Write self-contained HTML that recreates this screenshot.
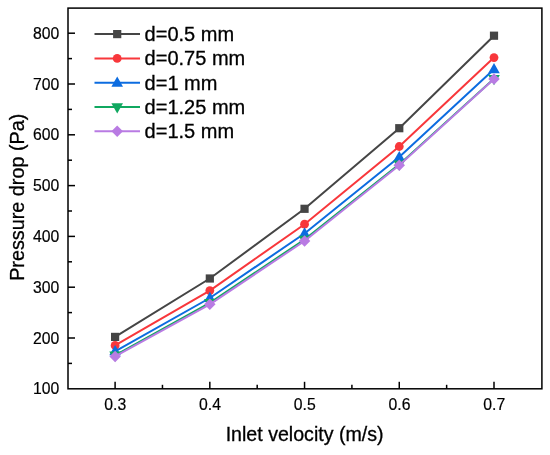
<!DOCTYPE html><html><head><meta charset="utf-8"><style>html,body{margin:0;padding:0;background:#fff;}text{stroke:#000;stroke-width:0.3px;}svg{display:block;will-change:transform;font-family:"Liberation Sans",sans-serif;}</style></head><body>
<svg width="550" height="455" viewBox="0 0 550 455">
<rect width="550" height="455" fill="#fff"/>
<polyline points="115.10,336.90 209.83,278.50 304.55,208.80 399.27,128.20 494.00,35.70" fill="none" stroke="#454545" stroke-width="2"/>
<rect x="111.00" y="332.80" width="8.2" height="8.2" fill="#454545"/>
<rect x="205.73" y="274.40" width="8.2" height="8.2" fill="#454545"/>
<rect x="300.45" y="204.70" width="8.2" height="8.2" fill="#454545"/>
<rect x="395.17" y="124.10" width="8.2" height="8.2" fill="#454545"/>
<rect x="489.90" y="31.60" width="8.2" height="8.2" fill="#454545"/>
<polyline points="115.10,345.40 209.83,290.60 304.55,224.20 399.27,146.50 494.00,57.60" fill="none" stroke="#f8373b" stroke-width="2"/>
<circle cx="115.10" cy="345.40" r="4.4" fill="#f8373b"/>
<circle cx="209.83" cy="290.60" r="4.4" fill="#f8373b"/>
<circle cx="304.55" cy="224.20" r="4.4" fill="#f8373b"/>
<circle cx="399.27" cy="146.50" r="4.4" fill="#f8373b"/>
<circle cx="494.00" cy="57.60" r="4.4" fill="#f8373b"/>
<polyline points="115.10,351.30 209.83,298.00 304.55,233.50 399.27,157.10 494.00,69.20" fill="none" stroke="#0c6ce0" stroke-width="2"/>
<polygon points="115.10,345.10 120.90,355.30 109.30,355.30" fill="#0c6ce0"/>
<polygon points="209.83,291.80 215.63,302.00 204.03,302.00" fill="#0c6ce0"/>
<polygon points="304.55,227.30 310.35,237.50 298.75,237.50" fill="#0c6ce0"/>
<polygon points="399.27,150.90 405.07,161.10 393.47,161.10" fill="#0c6ce0"/>
<polygon points="494.00,63.00 499.80,73.20 488.20,73.20" fill="#0c6ce0"/>
<polyline points="115.10,355.30 209.83,302.90 304.55,239.50 399.27,164.40 494.00,78.80" fill="none" stroke="#10a860" stroke-width="2"/>
<polygon points="115.10,361.70 120.90,351.50 109.30,351.50" fill="#10a860"/>
<polygon points="209.83,309.30 215.63,299.10 204.03,299.10" fill="#10a860"/>
<polygon points="304.55,245.90 310.35,235.70 298.75,235.70" fill="#10a860"/>
<polygon points="399.27,170.80 405.07,160.60 393.47,160.60" fill="#10a860"/>
<polygon points="494.00,85.20 499.80,75.00 488.20,75.00" fill="#10a860"/>
<polyline points="115.10,356.40 209.83,304.30 304.55,241.00 399.27,165.30 494.00,78.90" fill="none" stroke="#b97be3" stroke-width="2"/>
<polygon points="115.10,350.65 120.85,356.40 115.10,362.15 109.35,356.40" fill="#b97be3"/>
<polygon points="209.83,298.55 215.58,304.30 209.83,310.05 204.08,304.30" fill="#b97be3"/>
<polygon points="304.55,235.25 310.30,241.00 304.55,246.75 298.80,241.00" fill="#b97be3"/>
<polygon points="399.27,159.55 405.02,165.30 399.27,171.05 393.52,165.30" fill="#b97be3"/>
<polygon points="494.00,73.15 499.75,78.90 494.00,84.65 488.25,78.90" fill="#b97be3"/>
<rect x="68.0" y="8.1" width="473.9" height="380.7" fill="none" stroke="#000" stroke-width="1.5"/>
<text transform="translate(59.25,394.30) scale(0.945,1)" style="stroke-width:0.2px" font-size="16.7" text-anchor="end" fill="#000">100</text>
<line x1="68.0" x2="72.0" y1="363.40" y2="363.40" stroke="#000" stroke-width="1.5"/>
<line x1="68.0" x2="75.0" y1="338.00" y2="338.00" stroke="#000" stroke-width="1.5"/>
<text transform="translate(59.25,343.50) scale(0.945,1)" style="stroke-width:0.2px" font-size="16.7" text-anchor="end" fill="#000">200</text>
<line x1="68.0" x2="72.0" y1="312.60" y2="312.60" stroke="#000" stroke-width="1.5"/>
<line x1="68.0" x2="75.0" y1="287.20" y2="287.20" stroke="#000" stroke-width="1.5"/>
<text transform="translate(59.25,292.70) scale(0.945,1)" style="stroke-width:0.2px" font-size="16.7" text-anchor="end" fill="#000">300</text>
<line x1="68.0" x2="72.0" y1="261.80" y2="261.80" stroke="#000" stroke-width="1.5"/>
<line x1="68.0" x2="75.0" y1="236.40" y2="236.40" stroke="#000" stroke-width="1.5"/>
<text transform="translate(59.25,241.90) scale(0.945,1)" style="stroke-width:0.2px" font-size="16.7" text-anchor="end" fill="#000">400</text>
<line x1="68.0" x2="72.0" y1="211.00" y2="211.00" stroke="#000" stroke-width="1.5"/>
<line x1="68.0" x2="75.0" y1="185.60" y2="185.60" stroke="#000" stroke-width="1.5"/>
<text transform="translate(59.25,191.10) scale(0.945,1)" style="stroke-width:0.2px" font-size="16.7" text-anchor="end" fill="#000">500</text>
<line x1="68.0" x2="72.0" y1="160.20" y2="160.20" stroke="#000" stroke-width="1.5"/>
<line x1="68.0" x2="75.0" y1="134.80" y2="134.80" stroke="#000" stroke-width="1.5"/>
<text transform="translate(59.25,140.30) scale(0.945,1)" style="stroke-width:0.2px" font-size="16.7" text-anchor="end" fill="#000">600</text>
<line x1="68.0" x2="72.0" y1="109.40" y2="109.40" stroke="#000" stroke-width="1.5"/>
<line x1="68.0" x2="75.0" y1="84.00" y2="84.00" stroke="#000" stroke-width="1.5"/>
<text transform="translate(59.25,89.50) scale(0.945,1)" style="stroke-width:0.2px" font-size="16.7" text-anchor="end" fill="#000">700</text>
<line x1="68.0" x2="72.0" y1="58.60" y2="58.60" stroke="#000" stroke-width="1.5"/>
<line x1="68.0" x2="75.0" y1="33.20" y2="33.20" stroke="#000" stroke-width="1.5"/>
<text transform="translate(59.25,38.70) scale(0.945,1)" style="stroke-width:0.2px" font-size="16.7" text-anchor="end" fill="#000">800</text>
<line x1="115.10" x2="115.10" y1="388.8" y2="381.8" stroke="#000" stroke-width="1.5"/>
<text transform="translate(115.30,409.7) scale(0.945,1)" style="stroke-width:0.2px" font-size="16.7" text-anchor="middle" fill="#000">0.3</text>
<line x1="162.46" x2="162.46" y1="388.8" y2="384.8" stroke="#000" stroke-width="1.5"/>
<line x1="209.83" x2="209.83" y1="388.8" y2="381.8" stroke="#000" stroke-width="1.5"/>
<text transform="translate(210.03,409.7) scale(0.945,1)" style="stroke-width:0.2px" font-size="16.7" text-anchor="middle" fill="#000">0.4</text>
<line x1="257.19" x2="257.19" y1="388.8" y2="384.8" stroke="#000" stroke-width="1.5"/>
<line x1="304.55" x2="304.55" y1="388.8" y2="381.8" stroke="#000" stroke-width="1.5"/>
<text transform="translate(304.75,409.7) scale(0.945,1)" style="stroke-width:0.2px" font-size="16.7" text-anchor="middle" fill="#000">0.5</text>
<line x1="351.91" x2="351.91" y1="388.8" y2="384.8" stroke="#000" stroke-width="1.5"/>
<line x1="399.27" x2="399.27" y1="388.8" y2="381.8" stroke="#000" stroke-width="1.5"/>
<text transform="translate(399.47,409.7) scale(0.945,1)" style="stroke-width:0.2px" font-size="16.7" text-anchor="middle" fill="#000">0.6</text>
<line x1="446.64" x2="446.64" y1="388.8" y2="384.8" stroke="#000" stroke-width="1.5"/>
<line x1="494.00" x2="494.00" y1="388.8" y2="381.8" stroke="#000" stroke-width="1.5"/>
<text transform="translate(494.20,409.7) scale(0.945,1)" style="stroke-width:0.2px" font-size="16.7" text-anchor="middle" fill="#000">0.7</text>
<text x="304.6" y="440.6" font-size="19.6" text-anchor="middle" fill="#000">Inlet velocity (m/s)</text>
<text transform="translate(24,197.3) rotate(-90)" font-size="19.8" text-anchor="middle" fill="#000">Pressure drop (Pa)</text>
<line x1="94.5" x2="140" y1="34.10" y2="34.10" stroke="#454545" stroke-width="2"/>
<rect x="113.10" y="30.00" width="8.2" height="8.2" fill="#454545"/>
<text x="144.6" y="41.10" font-size="20" fill="#000">d=0.5 mm</text>
<line x1="94.5" x2="140" y1="58.40" y2="58.40" stroke="#f8373b" stroke-width="2"/>
<circle cx="117.20" cy="58.40" r="4.4" fill="#f8373b"/>
<text x="144.6" y="65.40" font-size="20" fill="#000">d=0.75 mm</text>
<line x1="94.5" x2="140" y1="82.70" y2="82.70" stroke="#0c6ce0" stroke-width="2"/>
<polygon points="117.20,76.50 123.00,86.70 111.40,86.70" fill="#0c6ce0"/>
<text x="144.6" y="89.70" font-size="20" fill="#000">d=1 mm</text>
<line x1="94.5" x2="140" y1="107.00" y2="107.00" stroke="#10a860" stroke-width="2"/>
<polygon points="117.20,113.40 123.00,103.20 111.40,103.20" fill="#10a860"/>
<text x="144.6" y="114.00" font-size="20" fill="#000">d=1.25 mm</text>
<line x1="94.5" x2="140" y1="131.30" y2="131.30" stroke="#b97be3" stroke-width="2"/>
<polygon points="117.20,125.55 122.95,131.30 117.20,137.05 111.45,131.30" fill="#b97be3"/>
<text x="144.6" y="138.30" font-size="20" fill="#000">d=1.5 mm</text>
</svg></body></html>
